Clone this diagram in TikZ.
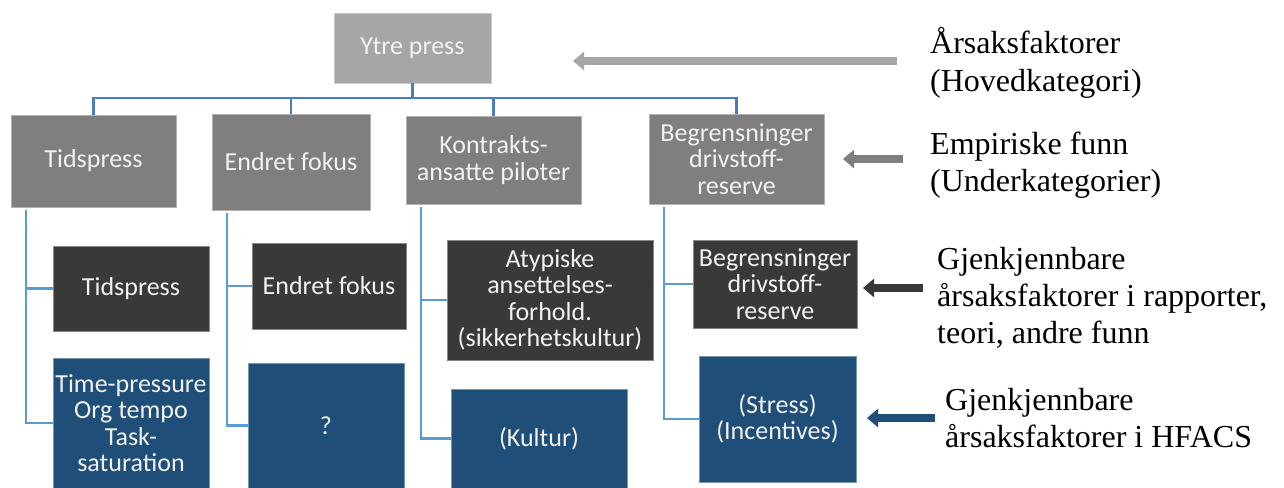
\documentclass[tikz,border=0pt]{standalone}
\usepackage{fontspec}
\setmainfont{Liberation Serif}
\newfontfamily\boxfont{Carlito}
\usetikzlibrary{arrows.meta}

\definecolor{toplevel}{HTML}{A6A6A6}
\definecolor{sublevel}{HTML}{7F7F7F}
\definecolor{darklevel}{HTML}{3B3838}
\definecolor{hfacs}{HTML}{1F4E79}
\definecolor{toplink}{HTML}{4A7EBB}
\definecolor{sublink}{HTML}{5B9BD5}

\tikzset{
  box/.style={rectangle, inner sep=0pt, align=center, line width=0.7pt,
    text=white!95!black, font=\boxfont\fontsize{26}{26.5}\selectfont},
  topbox/.style={box, fill=toplevel, draw=toplevel!60!white},
  subbox/.style={box, fill=sublevel, draw=sublevel!60!white},
  darkbox/.style={box, fill=darklevel, draw=darklevel!60!white},
  hfacsbox/.style={box, fill=hfacs, draw=hfacs!60!white},
  toplinks/.style={line width=2.4pt, toplink},
  sublinks/.style={line width=2.2pt, sublink},
  legend/.style={anchor=base west, align=left, inner sep=0pt,
    font=\fontsize{32}{37}\selectfont},
  legarrow/.style={line width=8pt, -{Triangle[length=11pt,width=18pt]}}
}

\begin{document}
\begin{tikzpicture}[x=1pt,y=-1pt]
	\useasboundingbox (0,0) rectangle (1284,487);

	%% main category
	\node[topbox, minimum width=157pt, minimum height=70pt] (ytre) at (412.5,48) {Ytre press};

	%% empirical findings
	\node[subbox, minimum width=165pt, minimum height=92pt] (gTid) at (93.5,161) {Tidspress};
	\node[subbox, minimum width=158pt, minimum height=96pt] (gEnd) at (291,162) {Endret fokus};
	\node[subbox, minimum width=175pt, minimum height=88pt] (gKon) at (493.5,160) {Kontrakts-\\ansatte piloter};
	\node[subbox, minimum width=175pt, minimum height=90pt] (gBeg) at (736.5,159) {Begrensninger\\drivstoff-\\reserve};

	%% recognisable factors
	\node[darkbox, minimum width=156pt, minimum height=85pt] (dTid) at (131,288.5) {Tidspress};
	\node[darkbox, minimum width=154pt, minimum height=86pt] (dEnd) at (329,286) {Endret fokus};
	\node[darkbox, minimum width=206pt, minimum height=120pt] (dAty) at (550,300) {Atypiske\\ansettelses-\\forhold.\\(sikkerhetskultur)};
	\node[darkbox, minimum width=164pt, minimum height=88pt] (dBeg) at (775,284) {Begrensninger\\drivstoff-\\reserve};

	%% HFACS
	\node[hfacsbox, minimum width=156pt, minimum height=130pt] (bTid) at (131,423) {Time-pressure\\Org tempo\\Task-\\saturation};
	\node[hfacsbox, minimum width=156pt, minimum height=125pt] (bUkj) at (326,425.5) {?};
	\node[hfacsbox, minimum width=176pt, minimum height=99pt] (bKul) at (539,438.5) {(Kultur)};
	\node[hfacsbox, minimum width=157pt, minimum height=126pt] (bStr) at (777.5,419) {(Stress)\\(Incentives)};

	%% tree lines
	\coordinate (bus) at (412.5,98);
	\draw[toplinks] (ytre) -- (bus);
	\foreach \n in {gTid,gEnd,gKon,gBeg}
		\draw[toplinks] (bus) -| (\n.north);

	\foreach \g/\d/\b in {gTid/dTid/bTid, gEnd/dEnd/bUkj, gKon/dAty/bKul, gBeg/dBeg/bStr} {
		\draw[sublinks] ([xshift=15pt,yshift=-3pt]\g.south west) |- (\d.west);
		\draw[sublinks] ([xshift=15pt,yshift=-3pt]\g.south west) |- (\b.west);
	}

	%% legend (anchored on the last line)
	\node[legend] (labTop) at (930,91) {Årsaksfaktorer\\(Hovedkategori)};
	\node[legend] (labSub) at (930,191) {Empiriske funn\\(Underkategorier)};
	\node[legend] (labDark) at (937,343) {Gjenkjennbare\\årsaksfaktorer i rapporter,\\teori, andre funn};
	\node[legend] (labHfacs) at (945,447) {Gjenkjennbare\\årsaksfaktorer i HFACS};

	\coordinate (topTail) at (897,61);
	\coordinate (topTip) at (573,61);
	\coordinate (subTail) at (903,159);
	\coordinate (subTip) at (843,159);
	\coordinate (darkTail) at (923,288);
	\coordinate (darkTip) at (863,288);
	\coordinate (hfacsTail) at (935,418);
	\coordinate (hfacsTip) at (867,418);

	\draw[legarrow, toplevel] (topTail) -- (topTip);
	\draw[legarrow, sublevel] (subTail) -- (subTip);
	\draw[legarrow, darklevel] (darkTail) -- (darkTip);
	\draw[legarrow, hfacs] (hfacsTail) -- (hfacsTip);
\end{tikzpicture}
\end{document}
